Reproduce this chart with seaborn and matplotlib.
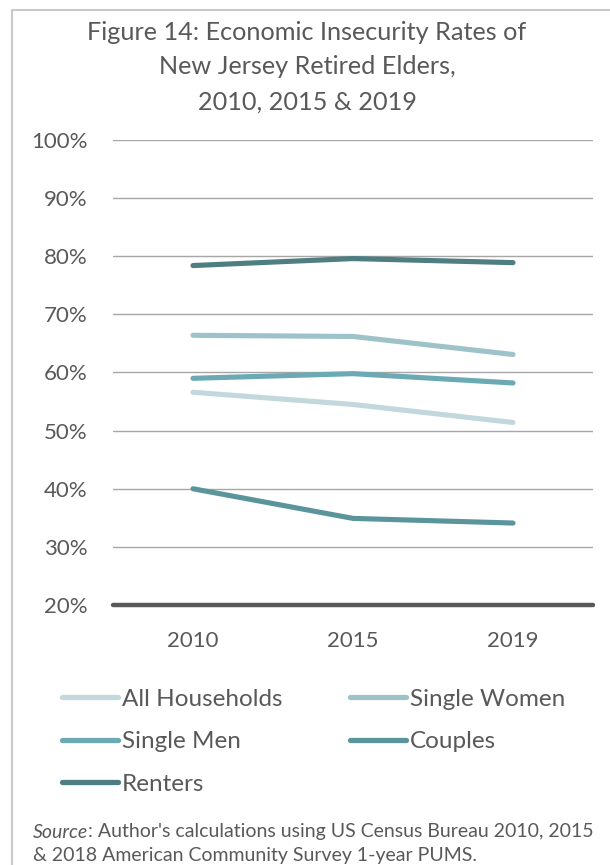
import matplotlib
matplotlib.use("Agg")
import matplotlib.pyplot as plt
import seaborn as sns
import pandas as pd
from matplotlib.lines import Line2D

years = ["2010", "2015", "2019"]
series_names = ["All Households", "Single Women", "Single Men", "Couples", "Renters"]
all_households = [0.566, 0.545, 0.514]
single_women = [0.664, 0.662, 0.631]
single_men = [0.590, 0.598, 0.582]
couples = [0.400, 0.349, 0.341]
renters = [0.784, 0.796, 0.789]
colors = ["#c2d8dc", "#9dc3c8", "#6baab4", "#5b959c", "#4e7d82"]

title_lines = ["Figure 14: Economic Insecurity Rates of",
               "New Jersey Retired Elders,",
               "2010, 2015 & 2019"]
yticks = [0.2, 0.3, 0.4, 0.5, 0.6, 0.7, 0.8, 0.9, 1.0]
ytick_labels = ["20%", "30%", "40%", "50%", "60%", "70%", "80%", "90%", "100%"]
source_rest_1 = ": Author's calculations using US Census Bureau 2010, 2015"
source_line_2 = "& 2018 American Community Survey 1-year PUMS."

values = [all_households, single_women, single_men, couples, renters]
rows = []
for name, vals in zip(series_names, values):
    for y, v in zip(years, vals):
        rows.append({"Year": y, "Rate": v, "Group": name})
df = pd.DataFrame(rows)

sns.set_style("white")
plt.rcParams["font.family"] = ["Lato", "DejaVu Sans"]
TXT = "#595959"

W, H = 610, 865
fig = plt.figure(figsize=(W / 100, H / 100), dpi=100)

# frame (left and top border)
fig.add_artist(Line2D([12.5 / W, 12.5 / W], [0, 1 - 10 / H], color="#c9c9c9", lw=1.5))
fig.add_artist(Line2D([12.5 / W, 1], [1 - 10 / H, 1 - 10 / H], color="#c9c9c9", lw=1.5))

ax = fig.add_axes([113 / W, (H - 605) / H, 480 / W, 465 / H])
palette = dict(zip(series_names, colors))
sns.lineplot(data=df, x="Year", y="Rate", hue="Group", hue_order=series_names,
             palette=palette, linewidth=3.7, ax=ax, legend=False, sort=False)
for ln in ax.get_lines():
    ln.set_solid_capstyle("round")
    ln.set_solid_joinstyle("round")

ax.set_ylim(0.2, 1.0)
ax.set_xlim(-0.5, 2.5)
ax.set_yticks(yticks)
ax.set_yticklabels(ytick_labels)
for yv in yticks[1:]:
    ax.axhline(yv, color="#a6a6a6", lw=1.0, zorder=0)
ax.axhline(0.2, color="#595959", lw=3.2, zorder=3, clip_on=False)
for s in ax.spines.values():
    s.set_visible(False)
ax.set_xlabel("")
ax.set_ylabel("")
ax.tick_params(axis="y", length=0, pad=18.5, labelsize=16, labelcolor=TXT)
ax.tick_params(axis="x", length=0, pad=18.5, labelsize=16, labelcolor=TXT)

for i, (t, yy) in enumerate(zip(title_lines, [32, 67, 102])):
    fig.text(307 / W, 1 - yy / H, t, ha="center", va="center", fontsize=18.2,
             color=TXT)

handles = [Line2D([], [], color=c, lw=3.8, solid_capstyle="round") for c in colors]
order = [0, 2, 4, 1, 3]
fig.legend([handles[i] for i in order], [series_names[i] for i in order],
           ncol=2, loc="upper left", bbox_to_anchor=(52 / W, 1 - 679 / H),
           frameon=False, fontsize=17.5, handlelength=2.3, handletextpad=0.16,
           labelspacing=0.88, columnspacing=2.8, labelcolor=TXT,
           borderaxespad=0, borderpad=0.4)

sx, sy = 33 / W, 1 - 832 / H
FS = 14
t_src = fig.text(sx, sy, "Source", ha="left", va="center", fontsize=FS,
                 color=TXT, style="italic")
fig.canvas.draw()
bb = t_src.get_window_extent(renderer=fig.canvas.get_renderer())
fig.text(bb.x1 / W, sy, source_rest_1, ha="left", va="center", fontsize=FS, color=TXT)
fig.text(sx, 1 - 855 / H, source_line_2, ha="left", va="center", fontsize=FS, color=TXT)

fig.savefig("out.png", dpi=100)
